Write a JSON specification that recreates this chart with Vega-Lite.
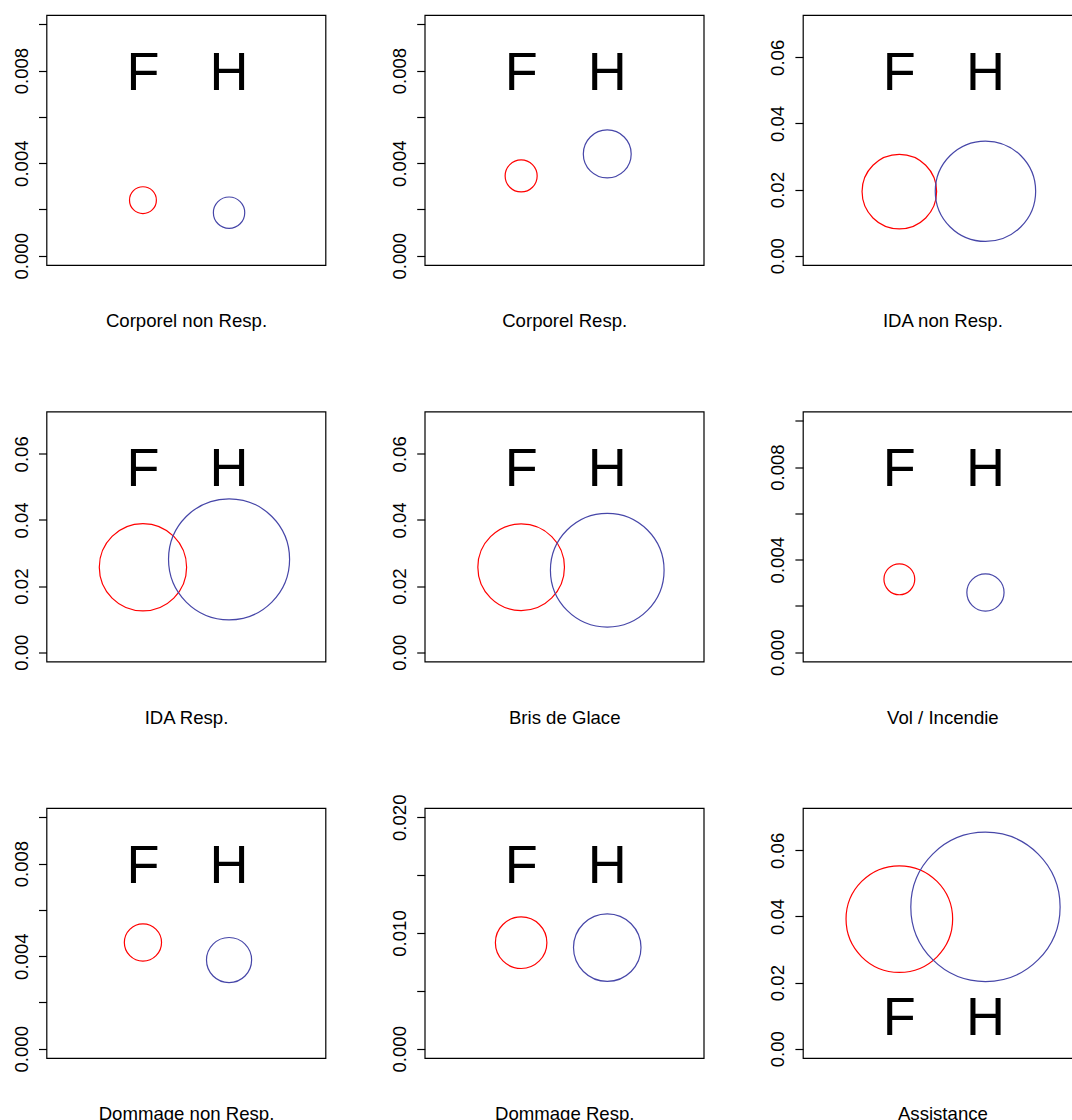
{
  "$schema": "https://vega.github.io/schema/vega-lite/v6.json",
  "background": "white",
  "padding": {"left": 10.5, "top": 14, "right": 0, "bottom": 0},
  "columns": 3,
  "spacing": {"row": 146.5, "column": 99.2},
  "bounds": "flush",
  "resolve": {"scale": {"y": "independent"}, "axis": {"y": "independent"}},
  "config": {
    "view": {"stroke": "black", "strokeWidth": 1.2},
    "axis": {"labelFont": "Liberation Sans", "labelFontSize": 18.6, "labelColor": "black", "tickColor": "black", "tickSize": 8, "tickWidth": 1.2, "domain": false, "grid": false, "titleFont": "Liberation Sans", "titleFontSize": 18.6, "titleFontWeight": "normal", "titleColor": "black"}
  },
  "data": {"values": [
    {"sinistre": "Corporel non Resp.", "sexe": "F", "taux": 0.0024, "rayon": 0.156},
    {"sinistre": "Corporel non Resp.", "sexe": "H", "taux": 0.00186, "rayon": 0.182},
    {"sinistre": "Corporel Resp.", "sexe": "F", "taux": 0.00345, "rayon": 0.186},
    {"sinistre": "Corporel Resp.", "sexe": "H", "taux": 0.0044, "rayon": 0.278},
    {"sinistre": "IDA non Resp.", "sexe": "F", "taux": 0.0194, "rayon": 0.433},
    {"sinistre": "IDA non Resp.", "sexe": "H", "taux": 0.0195, "rayon": 0.583},
    {"sinistre": "IDA Resp.", "sexe": "F", "taux": 0.0257, "rayon": 0.507},
    {"sinistre": "IDA Resp.", "sexe": "H", "taux": 0.0281, "rayon": 0.703},
    {"sinistre": "Bris de Glace", "sexe": "F", "taux": 0.0257, "rayon": 0.503},
    {"sinistre": "Bris de Glace", "sexe": "H", "taux": 0.0248, "rayon": 0.66},
    {"sinistre": "Vol / Incendie", "sexe": "F", "taux": 0.00315, "rayon": 0.179},
    {"sinistre": "Vol / Incendie", "sexe": "H", "taux": 0.00258, "rayon": 0.216},
    {"sinistre": "Dommage non Resp.", "sexe": "F", "taux": 0.00459, "rayon": 0.216},
    {"sinistre": "Dommage non Resp.", "sexe": "H", "taux": 0.00383, "rayon": 0.262},
    {"sinistre": "Dommage Resp.", "sexe": "F", "taux": 0.00916, "rayon": 0.299},
    {"sinistre": "Dommage Resp.", "sexe": "H", "taux": 0.00874, "rayon": 0.392},
    {"sinistre": "Assistance", "sexe": "F", "taux": 0.0392, "rayon": 0.619},
    {"sinistre": "Assistance", "sexe": "H", "taux": 0.0429, "rayon": 0.867}
  ]},
  "concat": [
    {
      "width": 279, "height": 250,
      "transform": [{"filter": "datum.sinistre == 'Corporel non Resp.'"}],
      "encoding": {"x": {"field": "sexe", "type": "nominal", "scale": {"type": "point", "padding": 0.12, "domain": ["0", "F", "H", "3"]}, "axis": {"title": "Corporel non Resp.", "labels": false, "ticks": false, "domain": false, "titlePadding": 46.5}}},
      "layer": [
        {"mark": {"type": "point", "shape": "circle", "filled": false, "opacity": 1, "strokeWidth": 1.2},
         "encoding": {
           "y": {"field": "taux", "type": "quantitative", "scale": {"domain": [-0.0004, 0.0104], "nice": false, "zero": false}, "axis": {"title": null, "values": [0, 0.002, 0.004, 0.006, 0.008, 0.01], "labelExpr": "abs(datum.value*250 - round(datum.value*250)) < 0.01 ? format(datum.value, '.3f') : ''", "labelAngle": -90, "labelAlign": "center", "labelBaseline": "alphabetic", "labelPadding": 11.5}},
           "size": {"field": "rayon", "type": "quantitative", "scale": {"type": "pow", "exponent": 2, "domain": [0, 1], "range": [0, 29658], "zero": true}, "legend": null},
           "color": {"field": "sexe", "type": "nominal", "scale": {"domain": ["F", "H"], "range": ["#FF0000", "#4646A8"]}, "legend": null}}},
        {"mark": {"type": "text", "fontSize": 54, "font": "Liberation Sans", "color": "black", "dy": 3},
         "encoding": {"y": {"datum": 0.008, "type": "quantitative", "title": null}, "text": {"field": "sexe"}}}
      ]
    },
    {
      "width": 279, "height": 250,
      "transform": [{"filter": "datum.sinistre == 'Corporel Resp.'"}],
      "encoding": {"x": {"field": "sexe", "type": "nominal", "scale": {"type": "point", "padding": 0.12, "domain": ["0", "F", "H", "3"]}, "axis": {"title": "Corporel Resp.", "labels": false, "ticks": false, "domain": false, "titlePadding": 46.5}}},
      "layer": [
        {"mark": {"type": "point", "shape": "circle", "filled": false, "opacity": 1, "strokeWidth": 1.2},
         "encoding": {
           "y": {"field": "taux", "type": "quantitative", "scale": {"domain": [-0.0004, 0.0104], "nice": false, "zero": false}, "axis": {"title": null, "values": [0, 0.002, 0.004, 0.006, 0.008, 0.01], "labelExpr": "abs(datum.value*250 - round(datum.value*250)) < 0.01 ? format(datum.value, '.3f') : ''", "labelAngle": -90, "labelAlign": "center", "labelBaseline": "alphabetic", "labelPadding": 11.5}},
           "size": {"field": "rayon", "type": "quantitative", "scale": {"type": "pow", "exponent": 2, "domain": [0, 1], "range": [0, 29658], "zero": true}, "legend": null},
           "color": {"field": "sexe", "type": "nominal", "scale": {"domain": ["F", "H"], "range": ["#FF0000", "#4646A8"]}, "legend": null}}},
        {"mark": {"type": "text", "fontSize": 54, "font": "Liberation Sans", "color": "black", "dy": 3},
         "encoding": {"y": {"datum": 0.008, "type": "quantitative", "title": null}, "text": {"field": "sexe"}}}
      ]
    },
    {
      "width": 279, "height": 250,
      "transform": [{"filter": "datum.sinistre == 'IDA non Resp.'"}],
      "encoding": {"x": {"field": "sexe", "type": "nominal", "scale": {"type": "point", "padding": 0.12, "domain": ["0", "F", "H", "3"]}, "axis": {"title": "IDA non Resp.", "labels": false, "ticks": false, "domain": false, "titlePadding": 46.5}}},
      "layer": [
        {"mark": {"type": "point", "shape": "circle", "filled": false, "opacity": 1, "strokeWidth": 1.2},
         "encoding": {
           "y": {"field": "taux", "type": "quantitative", "scale": {"domain": [-0.0028, 0.0728], "nice": false, "zero": false}, "axis": {"title": null, "values": [0, 0.01, 0.02, 0.03, 0.04, 0.05, 0.06, 0.07], "labelExpr": "abs(datum.value*50 - round(datum.value*50)) < 0.01 ? format(datum.value, '.2f') : ''", "labelAngle": -90, "labelAlign": "center", "labelBaseline": "alphabetic", "labelPadding": 11.5}},
           "size": {"field": "rayon", "type": "quantitative", "scale": {"type": "pow", "exponent": 2, "domain": [0, 1], "range": [0, 29658], "zero": true}, "legend": null},
           "color": {"field": "sexe", "type": "nominal", "scale": {"domain": ["F", "H"], "range": ["#FF0000", "#4646A8"]}, "legend": null}}},
        {"mark": {"type": "text", "fontSize": 54, "font": "Liberation Sans", "color": "black", "dy": 3},
         "encoding": {"y": {"datum": 0.056, "type": "quantitative", "title": null}, "text": {"field": "sexe"}}}
      ]
    },
    {
      "width": 279, "height": 250,
      "transform": [{"filter": "datum.sinistre == 'IDA Resp.'"}],
      "encoding": {"x": {"field": "sexe", "type": "nominal", "scale": {"type": "point", "padding": 0.12, "domain": ["0", "F", "H", "3"]}, "axis": {"title": "IDA Resp.", "labels": false, "ticks": false, "domain": false, "titlePadding": 46.5}}},
      "layer": [
        {"mark": {"type": "point", "shape": "circle", "filled": false, "opacity": 1, "strokeWidth": 1.2},
         "encoding": {
           "y": {"field": "taux", "type": "quantitative", "scale": {"domain": [-0.0028, 0.0728], "nice": false, "zero": false}, "axis": {"title": null, "values": [0, 0.01, 0.02, 0.03, 0.04, 0.05, 0.06, 0.07], "labelExpr": "abs(datum.value*50 - round(datum.value*50)) < 0.01 ? format(datum.value, '.2f') : ''", "labelAngle": -90, "labelAlign": "center", "labelBaseline": "alphabetic", "labelPadding": 11.5}},
           "size": {"field": "rayon", "type": "quantitative", "scale": {"type": "pow", "exponent": 2, "domain": [0, 1], "range": [0, 29658], "zero": true}, "legend": null},
           "color": {"field": "sexe", "type": "nominal", "scale": {"domain": ["F", "H"], "range": ["#FF0000", "#4646A8"]}, "legend": null}}},
        {"mark": {"type": "text", "fontSize": 54, "font": "Liberation Sans", "color": "black", "dy": 3},
         "encoding": {"y": {"datum": 0.056, "type": "quantitative", "title": null}, "text": {"field": "sexe"}}}
      ]
    },
    {
      "width": 279, "height": 250,
      "transform": [{"filter": "datum.sinistre == 'Bris de Glace'"}],
      "encoding": {"x": {"field": "sexe", "type": "nominal", "scale": {"type": "point", "padding": 0.12, "domain": ["0", "F", "H", "3"]}, "axis": {"title": "Bris de Glace", "labels": false, "ticks": false, "domain": false, "titlePadding": 46.5}}},
      "layer": [
        {"mark": {"type": "point", "shape": "circle", "filled": false, "opacity": 1, "strokeWidth": 1.2},
         "encoding": {
           "y": {"field": "taux", "type": "quantitative", "scale": {"domain": [-0.0028, 0.0728], "nice": false, "zero": false}, "axis": {"title": null, "values": [0, 0.01, 0.02, 0.03, 0.04, 0.05, 0.06, 0.07], "labelExpr": "abs(datum.value*50 - round(datum.value*50)) < 0.01 ? format(datum.value, '.2f') : ''", "labelAngle": -90, "labelAlign": "center", "labelBaseline": "alphabetic", "labelPadding": 11.5}},
           "size": {"field": "rayon", "type": "quantitative", "scale": {"type": "pow", "exponent": 2, "domain": [0, 1], "range": [0, 29658], "zero": true}, "legend": null},
           "color": {"field": "sexe", "type": "nominal", "scale": {"domain": ["F", "H"], "range": ["#FF0000", "#4646A8"]}, "legend": null}}},
        {"mark": {"type": "text", "fontSize": 54, "font": "Liberation Sans", "color": "black", "dy": 3},
         "encoding": {"y": {"datum": 0.056, "type": "quantitative", "title": null}, "text": {"field": "sexe"}}}
      ]
    },
    {
      "width": 279, "height": 250,
      "transform": [{"filter": "datum.sinistre == 'Vol / Incendie'"}],
      "encoding": {"x": {"field": "sexe", "type": "nominal", "scale": {"type": "point", "padding": 0.12, "domain": ["0", "F", "H", "3"]}, "axis": {"title": "Vol / Incendie", "labels": false, "ticks": false, "domain": false, "titlePadding": 46.5}}},
      "layer": [
        {"mark": {"type": "point", "shape": "circle", "filled": false, "opacity": 1, "strokeWidth": 1.2},
         "encoding": {
           "y": {"field": "taux", "type": "quantitative", "scale": {"domain": [-0.0004, 0.0104], "nice": false, "zero": false}, "axis": {"title": null, "values": [0, 0.002, 0.004, 0.006, 0.008, 0.01], "labelExpr": "abs(datum.value*250 - round(datum.value*250)) < 0.01 ? format(datum.value, '.3f') : ''", "labelAngle": -90, "labelAlign": "center", "labelBaseline": "alphabetic", "labelPadding": 11.5}},
           "size": {"field": "rayon", "type": "quantitative", "scale": {"type": "pow", "exponent": 2, "domain": [0, 1], "range": [0, 29658], "zero": true}, "legend": null},
           "color": {"field": "sexe", "type": "nominal", "scale": {"domain": ["F", "H"], "range": ["#FF0000", "#4646A8"]}, "legend": null}}},
        {"mark": {"type": "text", "fontSize": 54, "font": "Liberation Sans", "color": "black", "dy": 3},
         "encoding": {"y": {"datum": 0.008, "type": "quantitative", "title": null}, "text": {"field": "sexe"}}}
      ]
    },
    {
      "width": 279, "height": 250,
      "transform": [{"filter": "datum.sinistre == 'Dommage non Resp.'"}],
      "encoding": {"x": {"field": "sexe", "type": "nominal", "scale": {"type": "point", "padding": 0.12, "domain": ["0", "F", "H", "3"]}, "axis": {"title": "Dommage non Resp.", "labels": false, "ticks": false, "domain": false, "titlePadding": 46.5}}},
      "layer": [
        {"mark": {"type": "point", "shape": "circle", "filled": false, "opacity": 1, "strokeWidth": 1.2},
         "encoding": {
           "y": {"field": "taux", "type": "quantitative", "scale": {"domain": [-0.0004, 0.0104], "nice": false, "zero": false}, "axis": {"title": null, "values": [0, 0.002, 0.004, 0.006, 0.008, 0.01], "labelExpr": "abs(datum.value*250 - round(datum.value*250)) < 0.01 ? format(datum.value, '.3f') : ''", "labelAngle": -90, "labelAlign": "center", "labelBaseline": "alphabetic", "labelPadding": 11.5}},
           "size": {"field": "rayon", "type": "quantitative", "scale": {"type": "pow", "exponent": 2, "domain": [0, 1], "range": [0, 29658], "zero": true}, "legend": null},
           "color": {"field": "sexe", "type": "nominal", "scale": {"domain": ["F", "H"], "range": ["#FF0000", "#4646A8"]}, "legend": null}}},
        {"mark": {"type": "text", "fontSize": 54, "font": "Liberation Sans", "color": "black", "dy": 3},
         "encoding": {"y": {"datum": 0.008, "type": "quantitative", "title": null}, "text": {"field": "sexe"}}}
      ]
    },
    {
      "width": 279, "height": 250,
      "transform": [{"filter": "datum.sinistre == 'Dommage Resp.'"}],
      "encoding": {"x": {"field": "sexe", "type": "nominal", "scale": {"type": "point", "padding": 0.12, "domain": ["0", "F", "H", "3"]}, "axis": {"title": "Dommage Resp.", "labels": false, "ticks": false, "domain": false, "titlePadding": 46.5}}},
      "layer": [
        {"mark": {"type": "point", "shape": "circle", "filled": false, "opacity": 1, "strokeWidth": 1.2},
         "encoding": {
           "y": {"field": "taux", "type": "quantitative", "scale": {"domain": [-0.0008, 0.0208], "nice": false, "zero": false}, "axis": {"title": null, "values": [0, 0.005, 0.01, 0.015, 0.02], "labelExpr": "abs(datum.value*100 - round(datum.value*100)) < 0.01 ? format(datum.value, '.3f') : ''", "labelAngle": -90, "labelAlign": "center", "labelBaseline": "alphabetic", "labelPadding": 11.5}},
           "size": {"field": "rayon", "type": "quantitative", "scale": {"type": "pow", "exponent": 2, "domain": [0, 1], "range": [0, 29658], "zero": true}, "legend": null},
           "color": {"field": "sexe", "type": "nominal", "scale": {"domain": ["F", "H"], "range": ["#FF0000", "#4646A8"]}, "legend": null}}},
        {"mark": {"type": "text", "fontSize": 54, "font": "Liberation Sans", "color": "black", "dy": 3},
         "encoding": {"y": {"datum": 0.016, "type": "quantitative", "title": null}, "text": {"field": "sexe"}}}
      ]
    },
    {
      "width": 279, "height": 250,
      "transform": [{"filter": "datum.sinistre == 'Assistance'"}],
      "encoding": {"x": {"field": "sexe", "type": "nominal", "scale": {"type": "point", "padding": 0.12, "domain": ["0", "F", "H", "3"]}, "axis": {"title": "Assistance", "labels": false, "ticks": false, "domain": false, "titlePadding": 46.5}}},
      "layer": [
        {"mark": {"type": "point", "shape": "circle", "filled": false, "opacity": 1, "strokeWidth": 1.2},
         "encoding": {
           "y": {"field": "taux", "type": "quantitative", "scale": {"domain": [-0.0028, 0.0728], "nice": false, "zero": false}, "axis": {"title": null, "values": [0, 0.01, 0.02, 0.03, 0.04, 0.05, 0.06, 0.07], "labelExpr": "abs(datum.value*50 - round(datum.value*50)) < 0.01 ? format(datum.value, '.2f') : ''", "labelAngle": -90, "labelAlign": "center", "labelBaseline": "alphabetic", "labelPadding": 11.5}},
           "size": {"field": "rayon", "type": "quantitative", "scale": {"type": "pow", "exponent": 2, "domain": [0, 1], "range": [0, 29658], "zero": true}, "legend": null},
           "color": {"field": "sexe", "type": "nominal", "scale": {"domain": ["F", "H"], "range": ["#FF0000", "#4646A8"]}, "legend": null}}},
        {"mark": {"type": "text", "fontSize": 54, "font": "Liberation Sans", "color": "black", "dy": 3},
         "encoding": {"y": {"datum": 0.01, "type": "quantitative", "title": null}, "text": {"field": "sexe"}}}
      ]
    }
  ]
}
